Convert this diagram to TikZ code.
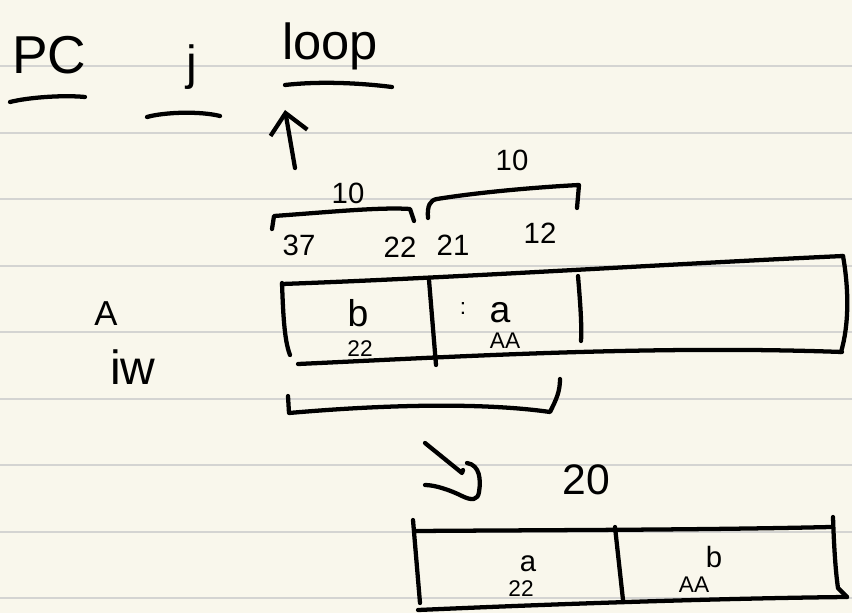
\documentclass[tikz,border=0pt]{standalone}
\usepackage{fontspec}
\setmainfont{Liberation Sans}
\usetikzlibrary{arrows.meta}
\definecolor{paper}{RGB}{249,247,236}
\definecolor{rule}{RGB}{212,212,210}
\begin{document}
\begin{tikzpicture}[x=0.75pt,y=-0.75pt,
  ink/.style={line width=3.2pt,line cap=round,line join=round,black},
  ruleline/.style={line width=1.6pt,rule},
  hw/.style={inner sep=0pt,text=black},
  big/.style={hw,font=\fontsize{36}{36}\selectfont},
  num/.style={hw,font=\fontsize{22}{22}\selectfont},
  small/.style={hw,font=\fontsize{17}{17}\selectfont}]
\useasboundingbox (0,0) rectangle (852,613);
\fill[paper] (0,0) rectangle (852,613);
\foreach \y in {66,133,199,266,332,399,465,532,598}
  \draw[ruleline] (0,\y) -- (852,\y);

% top labels
\node[big,anchor=base west,font=\fontsize{40}{40}\selectfont] (pc) at (12,74) {PC};
\node[big,anchor=base] (j) at (192,80) {j};
\node[big,anchor=base west,font=\fontsize{38}{38}\selectfont] (loop) at (282,60) {loop};
\draw[ink] (10,102) .. controls (30,97) and (65,95) .. (85,97);
\draw[ink] (147,117) .. controls (165,112) and (200,111) .. (220,116);
\draw[ink] (285,85) .. controls (320,81) and (360,83) .. (392,87);

% arrow up
\coordinate (upTail) at (295,168);
\coordinate (upTip) at (285,110);
\draw[ink,-{Straight Barb[length=15pt,width=28pt,line width=3.2pt]}] (upTail) -- (upTip);

% braces with numbers
\draw[ink] (272,229) -- (274,216) .. controls (330,212) and (380,207) .. (410,209) -- (414,221);
\node[num] (n10a) at (348,193) {10};
\draw[ink] (428,218) .. controls (427,206) and (430,200) .. (437,199) .. controls (480,192) and (540,187) .. (579,185) -- (577,208);
\node[num] (n10b) at (512,160) {10};
\node[num] (n37) at (299,245) {37};
\node[num] (n22t) at (400,247) {22};
\node[num] (n21) at (453,245) {21};
\node[num] (n12) at (540,233) {12};

% left labels
\node[hw,font=\fontsize{26}{26}\selectfont] (A) at (106,314) {A};
\node[big] (iw) at (133,367) {iw};

% main box
\draw[ink] (282,284) .. controls (450,278) and (650,265) .. (843,256);
\draw[ink] (843,256) .. controls (849,290) and (849,325) .. (841,352);
\draw[ink] (298,364) .. controls (450,357) and (650,345) .. (842,352);
\draw[ink] (282,283) .. controls (283,310) and (284,340) .. (290,355);
\draw[ink] (429,280) -- (436,365);
\draw[ink] (578,276) .. controls (580,300) and (582,325) .. (581,341);
\node[hw,font=\fontsize{28}{28}\selectfont] (b1) at (358,313) {b};
\node[small] (s22a) at (360,349) {22};
\node[small] (colon) at (463,309) {:};
\node[hw,font=\fontsize{28}{28}\selectfont] (a1) at (500,313) {a};
\node[small] (AA1) at (505,341) {AA};

% lower bracket
\draw[ink] (288,396) -- (289,413) .. controls (380,405) and (480,402) .. (550,412)
  .. controls (556,400) and (560,392) .. (560,379);

% hook arrow and 20
\coordinate (hkA) at (425,443);
\coordinate (hkB) at (462,473);
\draw[ink] (hkA) -- (hkB) -- (463,470);
\draw[ink] (467,463) .. controls (480,465) and (481,480) .. (479,492)
  .. controls (478,500) and (472,501) .. (462,496)
  .. controls (450,490) and (435,485) .. (425,485);
\node[hw,font=\fontsize{32}{32}\selectfont] (n20) at (586,480) {20};

% bottom box
\draw[ink] (413,520) -- (420,603);
\draw[ink] (416,531) .. controls (550,530) and (700,530) .. (831,527);
\draw[ink] (833,517) .. controls (834,550) and (836,575) .. (838,588) -- (847,597);
\draw[ink] (418,610) .. controls (600,602) and (750,598) .. (847,597);
\draw[ink] (615,527) -- (623,600);
\node[hw,font=\fontsize{22}{22}\selectfont] (a2) at (528,564) {a};
\node[small] (s22b) at (521,589) {22};
\node[hw,font=\fontsize{22}{22}\selectfont] (b2) at (714,557) {b};
\node[small] (AA2) at (694,585) {AA};
\end{tikzpicture}
\end{document}
